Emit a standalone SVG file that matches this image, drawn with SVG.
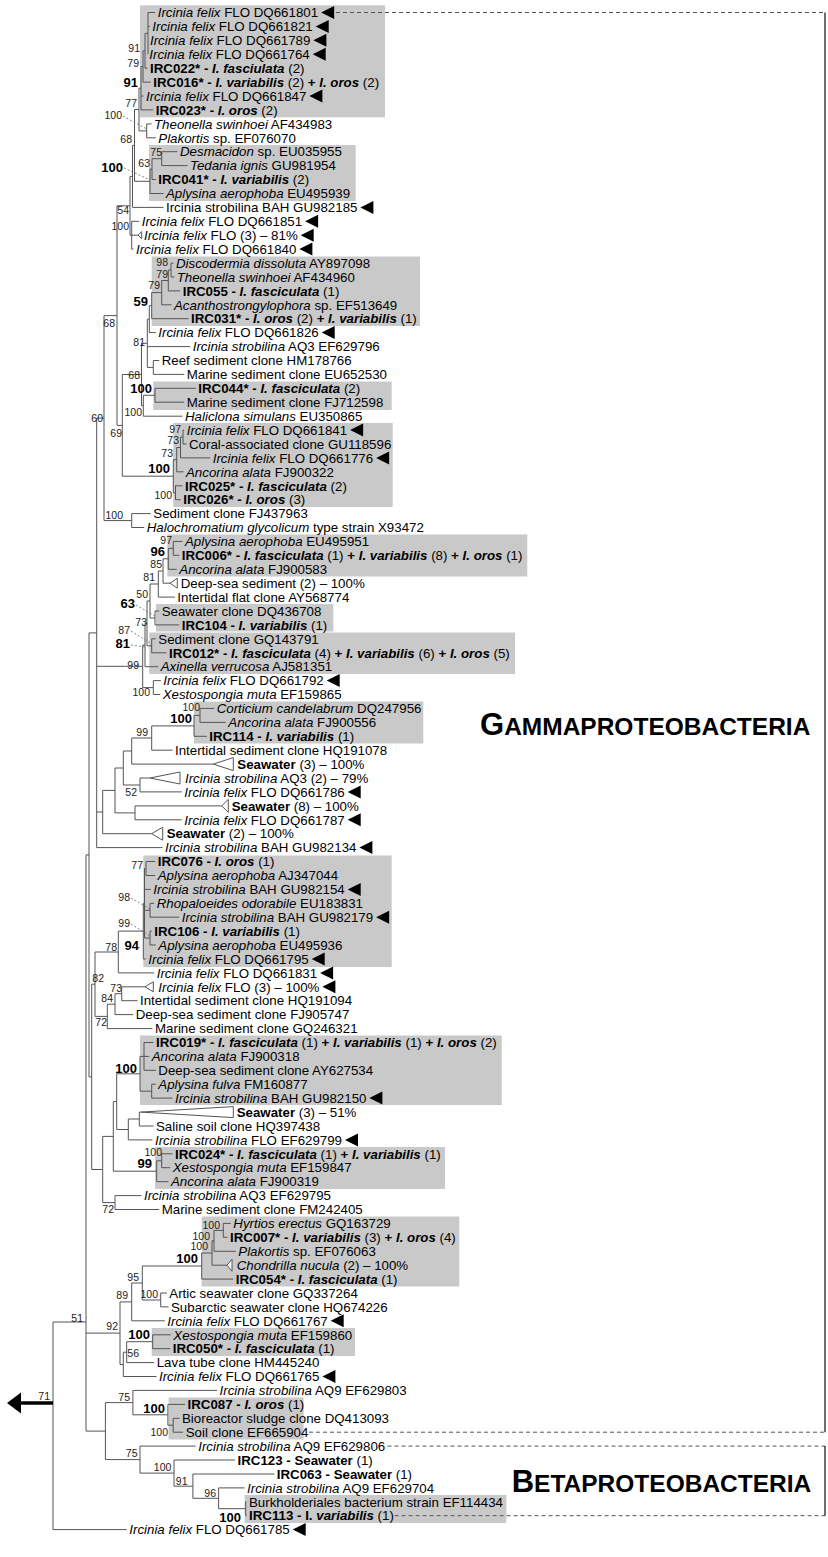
<svg xmlns="http://www.w3.org/2000/svg" xmlns:xlink="http://www.w3.org/1999/xlink" width="828" height="1557" viewBox="0 0 828 1557">
<style>
.t{font-family:"Liberation Sans",Arial,sans-serif;font-size:13.3px;fill:#000}
.i{font-style:italic}
.b{font-weight:bold}
.s{font-family:"Liberation Sans",Arial,sans-serif;font-size:10.5px;text-anchor:end;fill:#222}
.sb{font-family:"Liberation Sans",Arial,sans-serif;font-size:13px;font-weight:bold;text-anchor:end;fill:#000}
.ln{fill:none;stroke:#555;stroke-width:1}
.bx{fill:#c9c9c9}
.ct{fill:#fff;stroke:#555;stroke-width:1}
.ds{fill:none;stroke:#555;stroke-width:1;stroke-dasharray:4 3}
.pt{fill:none;stroke:#666;stroke-width:0.8;stroke-dasharray:2 2}
.big{font-family:"Liberation Sans",Arial,sans-serif;font-weight:bold;fill:#000}
</style>
<defs>
<path id="bt" d="M0 0L13 -6.5L13 6.5Z" fill="#000"/>
</defs>
<rect width="828" height="1557" fill="#fff"/>
<g id="boxes">
<rect class="bx" x="140" y="5.3" width="245" height="112"/>
<rect class="bx" x="149" y="145" width="206.7" height="56"/>
<rect class="bx" x="151.7" y="256.5" width="268.3" height="69.5"/>
<rect class="bx" x="153.3" y="381.5" width="238.4" height="28.5"/>
<rect class="bx" x="173.3" y="423" width="219.4" height="84"/>
<rect class="bx" x="167.3" y="534.5" width="360" height="42"/>
<rect class="bx" x="156" y="604" width="177.3" height="27.5"/>
<rect class="bx" x="149.3" y="632.5" width="365.7" height="41.5"/>
<rect class="bx" x="194" y="701.5" width="229.3" height="42"/>
<rect class="bx" x="143.3" y="855.5" width="248.4" height="111.5"/>
<rect class="bx" x="140" y="1035.5" width="361.7" height="69.5"/>
<rect class="bx" x="155" y="1147" width="290" height="42"/>
<rect class="bx" x="201.7" y="1216.5" width="257.6" height="70"/>
<rect class="bx" x="151.7" y="1328" width="203.3" height="28"/>
<rect class="bx" x="168.6" y="1397.5" width="135" height="42"/>
<rect class="bx" x="244.6" y="1495" width="261.8" height="28"/>
</g>
<g id="connectors" class="ln">
<path d="M148 12.5V54.3M148 12.5H155.2M148 26.4H149.8"/>
<path d="M145 33.4V68.2M145 33.4H148M145 68.2H147.5"/>
<path d="M143 50.8V82.1M143 50.8H145M143 82.1H150.8"/>
<path d="M141 66.5V109.9M141 66.5H143M141 96H143.5M141 109.9H153.2"/>
<path d="M146.7 123.9V137.8M146.7 123.9H151.5M146.7 137.8H155.8"/>
<path d="M139 88.2V130.9M139 88.2H141M139 130.9H146.7"/>
<path d="M161.7 151.7V165.6M161.7 151.7H177.5M161.7 165.6H187.5"/>
<path d="M152 158.7V179.5M152 158.7H161.7M152 179.5H155.8"/>
<path d="M150 169.1V193.5M150 169.1H152M150 193.5H163.5"/>
<path d="M134.5 109.5V181.3M134.5 109.5H139M134.5 181.3H150"/>
<path d="M132.5 145.4V207.4M132.5 145.4H134.5M132.5 207.4H163.5"/>
<path d="M131.7 221.3V249.1M131.7 221.3H139.2M131.7 235.2H138M131.7 249.1H133.5"/>
<path d="M130 176.4V235.2M130 176.4H132.5M130 235.2H131.7"/>
<path d="M117 205.8V425.4M117 205.8H130M117 425.4H122.3"/>
<path d="M171 263.1V277M171 263.1H173.5M171 277H174.2"/>
<path d="M168.3 270V290.9M168.3 270H171M168.3 290.9H180.2"/>
<path d="M161.7 280.5V304.8M161.7 280.5H168.3M161.7 304.8H171.5"/>
<path d="M151.7 292.6V318.7M151.7 292.6H161.7M151.7 318.7H188.5"/>
<path d="M149.3 305.7V332.6M149.3 305.7H151.7M149.3 332.6H155.8"/>
<path d="M153.3 360.5V374.4M153.3 360.5H159.2M153.3 374.4H184.2"/>
<path d="M147.3 319.1V367.4M147.3 319.1H149.3M147.3 346.6H190.2M147.3 367.4H153.3"/>
<path d="M155 388.3V402.2M155 388.3H195.8M155 402.2H184.2"/>
<path d="M143.3 395.3V416.2M143.3 395.3H155M143.3 416.2H182.5"/>
<path d="M141.5 343.3V405.7M141.5 343.3H147.3M141.5 405.7H143.3"/>
<path d="M183 430.1V444M183 430.1H184.2M183 444H186.5"/>
<path d="M180.5 437.1V457.9M180.5 437.1H183M180.5 457.9H210.2"/>
<path d="M176.7 447.5V471.8M176.7 447.5H180.5M176.7 471.8H183.5"/>
<path d="M175.5 485.8V499.7M175.5 485.8H182.5M175.5 499.7H180.8"/>
<path d="M173.3 459.7V492.8M173.3 459.7H176.7M173.3 492.8H175.5"/>
<path d="M122.3 374.5V476.2M122.3 374.5H141.5M122.3 476.2H173.3"/>
<path d="M131.7 513.6V527.5M131.7 513.6H150.8M131.7 527.5H144.2"/>
<path d="M104 315.6V520.6M104 315.6H117M104 520.6H131.7"/>
<path d="M173.3 541.4V555.3M173.3 541.4H182.5M173.3 555.3H179.2"/>
<path d="M168.3 548.4V569.3M168.3 548.4H173.3M168.3 569.3H176.8"/>
<path d="M163 558.8V583.2M163 558.8H168.3M163 583.2H170"/>
<path d="M158.3 571V597.1M158.3 571H163M158.3 597.1H174.8"/>
<path d="M155 611V624.9M155 611H159.2M155 624.9H179.2"/>
<path d="M150 584V618M150 584H158.3M150 618H155"/>
<path d="M151.7 638.8V652.8M151.7 638.8H155.8M151.7 652.8H166.5"/>
<path d="M147 601V645.8M147 601H150M147 645.8H151.7"/>
<path d="M145 623.4V666.7M145 623.4H147M145 666.7H158.2"/>
<path d="M153.3 680.6V694.5M153.3 680.6H160.8M153.3 694.5H160.2"/>
<path d="M142.7 645V687.6M142.7 645H145M142.7 687.6H153.3"/>
<path d="M200 708.4V722.4M200 708.4H214.2M200 722.4H225.8"/>
<path d="M194 715.4V736.3M194 715.4H200M194 736.3H206.8"/>
<path d="M151.7 725.9V750.2M151.7 725.9H194M151.7 750.2H172.5"/>
<path d="M131.7 738V764.1M131.7 738H151.7M131.7 764.1H213.3"/>
<path d="M140 778V791.9M140 778H150M140 791.9H181.8"/>
<path d="M123.3 751V785M123.3 751H131.7M123.3 785H140"/>
<path d="M135 805.9V819.8M135 805.9H221.7M135 819.8H181.8"/>
<path d="M115 768V812.9M115 768H123.3M115 812.9H135"/>
<path d="M102.7 790.4V833.7M102.7 790.4H115M102.7 833.7H151.7"/>
<path d="M96.7 418.1V847.6M96.7 418.1H104M96.7 666.3H142.7M96.7 812H102.7M96.7 847.6H162.5"/>
<path d="M146 861.5V875.5M146 861.5H155.2M146 875.5H155.2"/>
<path d="M150 903.3V917.2M150 903.3H154.2M150 917.2H179.2"/>
<path d="M150 931.1V945M150 931.1H151.8M150 945H155.8"/>
<path d="M144.5 868.5V938M144.5 868.5H146M144.5 889.4H150.8M144.5 910.3H150M144.5 938H150"/>
<path d="M143.3 903.3V959M143.3 903.3H144.5M143.3 959H145.8"/>
<path d="M118.3 931.1V972.9M118.3 931.1H143.3M118.3 972.9H154.2"/>
<path d="M121.7 986.8V1000.7M121.7 986.8H145M121.7 1000.7H137.5"/>
<path d="M115 993.7V1014.6M115 993.7H121.7M115 1014.6H133.2"/>
<path d="M107.3 1004.2V1028.6M107.3 1004.2H115M107.3 1028.6H152.5"/>
<path d="M95 952V1016.4M95 952H118.3M95 1016.4H107.3"/>
<path d="M144 1042.5V1070.3M144 1042.5H153.5M144 1056.4H149.2M144 1070.3H155.8"/>
<path d="M151.7 1084.2V1098.1M151.7 1084.2H155.8M151.7 1098.1H172.5"/>
<path d="M140 1056.4V1091.2M140 1056.4H144M140 1091.2H151.7"/>
<path d="M139.3 1112.1V1126M139.3 1112.1H141M139.3 1126H153.5"/>
<path d="M128.3 1119V1139.9M128.3 1119H139.3M128.3 1139.9H152.5"/>
<path d="M116.7 1073.8V1129.5M116.7 1073.8H140M116.7 1129.5H128.3"/>
<path d="M161.7 1153.8V1167.7M161.7 1153.8H172.5M161.7 1167.7H170.2"/>
<path d="M156.7 1160.8V1181.7M156.7 1160.8H161.7M156.7 1181.7H168.5"/>
<path d="M113.3 1101.6V1171.2M113.3 1101.6H116.7M113.3 1171.2H156.7"/>
<path d="M115 1195.6V1209.5M115 1195.6H141.5M115 1209.5H159.2"/>
<path d="M102.7 1136.4V1202.6M102.7 1136.4H113.3M102.7 1202.6H115"/>
<path d="M91.7 984.2V1169.5M91.7 984.2H95M91.7 1169.5H102.7"/>
<path d="M89 632.9V1076.9M89 632.9H96.7M89 1076.9H91.7"/>
<path d="M223.3 1223.4V1237.3M223.3 1223.4H230.8M223.3 1237.3H227.5"/>
<path d="M214 1230.4V1251.3M214 1230.4H223.3M214 1251.3H235.8"/>
<path d="M212 1240.8V1265.2M212 1240.8H214M212 1265.2H227"/>
<path d="M201.7 1253V1279.1M201.7 1253H212M201.7 1279.1H233.2"/>
<path d="M160.7 1293V1306.9M160.7 1293H166.8M160.7 1306.9H168.5"/>
<path d="M142.3 1266V1300M142.3 1266H201.7M142.3 1300H160.7"/>
<path d="M131.7 1283V1320.8M131.7 1283H142.3M131.7 1320.8H164.8"/>
<path d="M152.7 1334.8V1348.7M152.7 1334.8H170.8M152.7 1348.7H170.2"/>
<path d="M126.7 1341.7V1362.6M126.7 1341.7H152.7M126.7 1362.6H154.2"/>
<path d="M123.3 1352.2V1376.5M123.3 1352.2H126.7M123.3 1376.5H156.5"/>
<path d="M120 1301.9V1364.4M120 1301.9H131.7M120 1364.4H123.3"/>
<path d="M173.2 1418.3V1432.2M173.2 1418.3H179.5M173.2 1432.2H183.2"/>
<path d="M167.9 1404.4V1425.2M167.9 1404.4H185M167.9 1425.2H173.2"/>
<path d="M132.9 1390.4V1414.8M132.9 1390.4H217.1M132.9 1414.8H167.9"/>
<path d="M245.7 1501.8V1515.7M245.7 1501.8H246.5M245.7 1515.7H246.5"/>
<path d="M218.6 1487.9V1508.7M218.6 1487.9H244.6M218.6 1508.7H245.7"/>
<path d="M192.9 1474V1498.3M192.9 1474H274.3M192.9 1498.3H218.6"/>
<path d="M174 1460V1486.2M174 1460H235M174 1486.2H192.9"/>
<path d="M140 1446.1V1473.1M140 1446.1H195.7M140 1473.1H174"/>
<path d="M105.4 1402.6V1459.6M105.4 1402.6H132.9M105.4 1459.6H140"/>
<path d="M86 854.9V1431.1M86 854.9H89M86 1333.1H120M86 1431.1H105.4"/>
<path d="M53 1322V1529.6M53 1322H86M53 1529.6H126.8"/>
<path d="M20 1403H53" stroke="#000" stroke-width="3.5"/>
<polygon points="7,1403 21,1392.5 21,1413.5" fill="#000" stroke="none"/>
<polygon class="ct" points="138,235.2 141.7,231.7 141.7,238.7"/>
<polygon class="ct" points="170,583.2 177.3,578.2 177.3,588.2"/>
<polygon class="ct" points="213.3,764.1 233.3,757.6 233.3,770.6"/>
<polygon class="ct" points="150,778 180,772 180,784"/>
<polygon class="ct" points="221.7,805.9 228.3,799.4 228.3,812.4"/>
<polygon class="ct" points="151.7,833.7 162.7,827.2 162.7,840.2"/>
<polygon class="ct" points="145,986.8 153.3,981.8 153.3,991.8"/>
<polygon class="ct" points="141,1112.1 233.3,1106.6 233.3,1117.6"/>
<polygon class="ct" points="227,1265.2 232,1259.2 232,1271.2"/>
<path class="pt" d="M123 116L146.7 129M124 168L150 180M136 605L155 616M131 631L151.7 644M131 645L145 647M131 898L150 909M131 924L150 936"/>
<path class="ds" d="M336 12.5H825M309 1432.2H825M387.5 1446.1H825M394.6 1515.7H825"/>
<path d="M825 12.5V1432.2M825 1446.1V1515.7" stroke="#222" stroke-width="1.3"/>
</g>
<g id="support">
<text class="s" x="140" y="51.7">91</text>
<text class="s" x="139" y="66.7">79</text>
<text class="sb" x="138" y="86.5">91</text>
<text class="s" x="137" y="106.7">77</text>
<text class="s" x="122" y="118.7">100</text>
<text class="s" x="132" y="142.7">68</text>
<text class="s" x="162" y="155.7">75</text>
<text class="s" x="150" y="166.7">63</text>
<text class="sb" x="123" y="171.5">100</text>
<text class="s" x="129" y="213.7">54</text>
<text class="s" x="129" y="229.7">100</text>
<text class="s" x="168" y="265.7">98</text>
<text class="s" x="168" y="277.7">79</text>
<text class="s" x="160" y="288.7">79</text>
<text class="sb" x="148" y="305.5">59</text>
<text class="s" x="115" y="326.7">68</text>
<text class="s" x="145" y="345.7">81</text>
<text class="s" x="140" y="378.7">68</text>
<text class="sb" x="152" y="392.5">100</text>
<text class="s" x="142" y="415.7">100</text>
<text class="s" x="103" y="421.7">60</text>
<text class="s" x="181" y="432.7">97</text>
<text class="s" x="122" y="436.7">69</text>
<text class="s" x="179" y="443.7">73</text>
<text class="s" x="173" y="456.7">73</text>
<text class="sb" x="170" y="472.5">100</text>
<text class="s" x="172" y="498.7">100</text>
<text class="s" x="123" y="518.7">100</text>
<text class="s" x="172" y="544">97</text>
<text class="sb" x="165" y="556">96</text>
<text class="s" x="162" y="567.5">85</text>
<text class="s" x="155" y="580.7">81</text>
<text class="s" x="148" y="597.7">50</text>
<text class="sb" x="135" y="607.5">63</text>
<text class="s" x="147" y="625.7">73</text>
<text class="s" x="130" y="633.7">87</text>
<text class="sb" x="130" y="647.5">81</text>
<text class="s" x="139" y="668.7">99</text>
<text class="s" x="150" y="695.7">100</text>
<text class="s" x="200" y="710.7">100</text>
<text class="sb" x="192" y="722.5">100</text>
<text class="s" x="148" y="735.7">99</text>
<text class="s" x="137" y="795.7">52</text>
<text class="s" x="143" y="868.7">77</text>
<text class="s" x="130" y="900.7">98</text>
<text class="s" x="130" y="926.7">99</text>
<text class="sb" x="139" y="949.5">94</text>
<text class="s" x="117" y="950.7">78</text>
<text class="s" x="104" y="981.7">82</text>
<text class="s" x="122" y="991.7">73</text>
<text class="s" x="113" y="1001.7">84</text>
<text class="s" x="107" y="1025.7">72</text>
<text class="sb" x="137" y="1072.5">100</text>
<text class="s" x="162" y="1155.7">100</text>
<text class="sb" x="152" y="1167.5">99</text>
<text class="s" x="114" y="1212.7">72</text>
<text class="s" x="220" y="1228.7">100</text>
<text class="s" x="210" y="1239.7">100</text>
<text class="s" x="208" y="1249.7">100</text>
<text class="sb" x="198" y="1262.5">100</text>
<text class="s" x="139" y="1280.7">95</text>
<text class="s" x="158" y="1297.7">100</text>
<text class="s" x="128" y="1298.7">89</text>
<text class="s" x="83" y="1321.7">51</text>
<text class="s" x="118" y="1329.7">92</text>
<text class="sb" x="150" y="1338.5">100</text>
<text class="s" x="139" y="1356.7">56</text>
<text class="s" x="50" y="1399.7">71</text>
<text class="s" x="130" y="1400.7">75</text>
<text class="sb" x="165" y="1412.5">100</text>
<text class="s" x="168" y="1435.7">100</text>
<text class="s" x="137.5" y="1456.7">75</text>
<text class="s" x="171.4" y="1470.7">100</text>
<text class="s" x="187.5" y="1484.7">91</text>
<text class="s" x="216" y="1496.7">96</text>
<text class="sb" x="241" y="1521.5">100</text>
</g>
<g id="L1"><text class="t" x="157.7" y="17.2"><tspan class="i">Ircinia felix</tspan> FLO DQ661801</text><use href="#bt" x="321.1" y="12.5"/></g>
<g id="L2"><text class="t" x="152.3" y="31.1"><tspan class="i">Ircinia felix</tspan> FLO DQ661821</text><use href="#bt" x="315.7" y="26.4"/></g>
<g id="L3"><text class="t" x="150" y="45"><tspan class="i">Ircinia felix</tspan> FLO DQ661789</text><use href="#bt" x="313.4" y="40.3"/></g>
<g id="L4"><text class="t" x="149.3" y="59"><tspan class="i">Ircinia felix</tspan> FLO DQ661764</text><use href="#bt" x="312.7" y="54.3"/></g>
<g id="L5"><text class="t" x="150" y="72.9"><tspan class="b">IRC022* - <tspan class="i">I. fasciulata</tspan></tspan> (2)</text></g>
<g id="L6"><text class="t" x="153.3" y="86.8"><tspan class="b">IRC016* - <tspan class="i">I. variabilis</tspan></tspan> (2) <tspan class="b">+ <tspan class="i">I. oros</tspan></tspan> (2)</text></g>
<g id="L7"><text class="t" x="146" y="100.7"><tspan class="i">Ircinia felix</tspan> FLO DQ661847</text><use href="#bt" x="309.4" y="96"/></g>
<g id="L8"><text class="t" x="155.7" y="114.6"><tspan class="b">IRC023* - <tspan class="i">I. oros</tspan></tspan> (2)</text></g>
<g id="L9"><text class="t" x="154" y="128.6"><tspan class="i">Theonella swinhoei</tspan> AF434983</text></g>
<g id="L10"><text class="t" x="158.3" y="142.5"><tspan class="i">Plakortis</tspan> sp. EF076070</text></g>
<g id="L11"><text class="t" x="180" y="156.4"><tspan class="i">Desmacidon</tspan> sp. EU035955</text></g>
<g id="L12"><text class="t" x="190" y="170.3"><tspan class="i">Tedania ignis</tspan> GU981954</text></g>
<g id="L13"><text class="t" x="158.3" y="184.2"><tspan class="b">IRC041* - <tspan class="i">I. variabilis</tspan></tspan> (2)</text></g>
<g id="L14"><text class="t" x="166" y="198.2"><tspan class="i">Aplysina aerophoba</tspan> EU495939</text></g>
<g id="L15"><text class="t" x="166" y="212.1">Ircinia strobilina BAH GU982185</text><use href="#bt" x="360.4" y="207.4"/></g>
<g id="L16"><text class="t" x="141.7" y="226"><tspan class="i">Ircinia felix</tspan> FLO DQ661851</text><use href="#bt" x="305.1" y="221.3"/></g>
<g id="L17"><text class="t" x="144" y="239.9"><tspan class="i">Ircinia felix</tspan> FLO (3) – 81%</text><use href="#bt" x="300.7" y="235.2"/></g>
<g id="L18"><text class="t" x="136" y="253.8"><tspan class="i">Ircinia felix</tspan> FLO DQ661840</text><use href="#bt" x="299.4" y="249.1"/></g>
<g id="L19"><text class="t" x="176" y="267.8"><tspan class="i">Discodermia dissoluta</tspan> AY897098</text></g>
<g id="L20"><text class="t" x="176.7" y="281.7"><tspan class="i">Theonella swinhoei</tspan> AF434960</text></g>
<g id="L21"><text class="t" x="182.7" y="295.6"><tspan class="b">IRC055 - <tspan class="i">I. fasciculata</tspan></tspan> (1)</text></g>
<g id="L22"><text class="t" x="174" y="309.5"><tspan class="i">Acanthostrongylophora</tspan> sp. EF513649</text></g>
<g id="L23"><text class="t" x="191" y="323.4"><tspan class="b">IRC031* - <tspan class="i">I. oros</tspan></tspan> (2) <tspan class="b">+ <tspan class="i">I. variabilis</tspan></tspan> (1)</text></g>
<g id="L24"><text class="t" x="158.3" y="337.3"><tspan class="i">Ircinia felix</tspan> FLO DQ661826</text><use href="#bt" x="321.7" y="332.6"/></g>
<g id="L25"><text class="t" x="192.7" y="351.3"><tspan class="i">Ircinia strobilina</tspan> AQ3 EF629796</text></g>
<g id="L26"><text class="t" x="161.7" y="365.2">Reef sediment clone HM178766</text></g>
<g id="L27"><text class="t" x="186.7" y="379.1">Marine sediment clone EU652530</text></g>
<g id="L28"><text class="t" x="198.3" y="393"><tspan class="b">IRC044* - <tspan class="i">I. fasciculata</tspan></tspan> (2)</text></g>
<g id="L29"><text class="t" x="186.7" y="406.9">Marine sediment clone FJ712598</text></g>
<g id="L30"><text class="t" x="185" y="420.9"><tspan class="i">Haliclona simulans</tspan> EU350865</text></g>
<g id="L31"><text class="t" x="186.7" y="434.8"><tspan class="i">Ircinia felix</tspan> FLO DQ661841</text><use href="#bt" x="350.1" y="430.1"/></g>
<g id="L32"><text class="t" x="189" y="448.7">Coral-associated clone GU118596</text></g>
<g id="L33"><text class="t" x="212.7" y="462.6"><tspan class="i">Ircinia felix</tspan> FLO DQ661776</text><use href="#bt" x="376.1" y="457.9"/></g>
<g id="L34"><text class="t" x="186" y="476.5"><tspan class="i">Ancorina alata</tspan> FJ900322</text></g>
<g id="L35"><text class="t" x="185" y="490.5"><tspan class="b">IRC025* - <tspan class="i">I. fasciculata</tspan></tspan> (2)</text></g>
<g id="L36"><text class="t" x="183.3" y="504.4"><tspan class="b">IRC026* - <tspan class="i">I. oros</tspan></tspan> (3)</text></g>
<g id="L37"><text class="t" x="153.3" y="518.3">Sediment clone FJ437963</text></g>
<g id="L38"><text class="t" x="146.7" y="532.2"><tspan class="i">Halochromatium glycolicum</tspan> type strain X93472</text></g>
<g id="L39"><text class="t" x="185" y="546.1"><tspan class="i">Aplysina aerophoba</tspan> EU495951</text></g>
<g id="L40"><text class="t" x="181.7" y="560"><tspan class="b">IRC006* - <tspan class="i">I. fasciculata</tspan></tspan> (1) <tspan class="b">+ <tspan class="i">I. variabilis</tspan></tspan> (8) <tspan class="b">+ <tspan class="i">I. oros</tspan></tspan> (1)</text></g>
<g id="L41"><text class="t" x="179.3" y="574"><tspan class="i">Ancorina alata</tspan> FJ900583</text></g>
<g id="L42"><text class="t" x="180.7" y="587.9">Deep-sea sediment (2) – 100%</text></g>
<g id="L43"><text class="t" x="177.3" y="601.8">Intertidal flat clone AY568774</text></g>
<g id="L44"><text class="t" x="161.7" y="615.7">Seawater clone DQ436708</text></g>
<g id="L45"><text class="t" x="181.7" y="629.6"><tspan class="b">IRC104 - <tspan class="i">I. variabilis</tspan></tspan> (1)</text></g>
<g id="L46"><text class="t" x="158.3" y="643.5">Sediment clone GQ143791</text></g>
<g id="L47"><text class="t" x="169" y="657.5"><tspan class="b">IRC012* - <tspan class="i">I. fasciculata</tspan></tspan> (4) <tspan class="b">+ <tspan class="i">I. variabilis</tspan></tspan> (6) <tspan class="b">+ <tspan class="i">I. oros</tspan></tspan> (5)</text></g>
<g id="L48"><text class="t" x="160.7" y="671.4"><tspan class="i">Axinella verrucosa</tspan> AJ581351</text></g>
<g id="L49"><text class="t" x="163.3" y="685.3"><tspan class="i">Ircinia felix</tspan> FLO DQ661792</text><use href="#bt" x="326.7" y="680.6"/></g>
<g id="L50"><text class="t" x="162.7" y="699.2"><tspan class="i">Xestospongia muta</tspan> EF159865</text></g>
<g id="L51"><text class="t" x="216.7" y="713.1"><tspan class="i">Corticium candelabrum</tspan> DQ247956</text></g>
<g id="L52"><text class="t" x="228.3" y="727.1"><tspan class="i">Ancorina alata</tspan> FJ900556</text></g>
<g id="L53"><text class="t" x="209.3" y="741"><tspan class="b">IRC114 - <tspan class="i">I. variabilis</tspan></tspan> (1)</text></g>
<g id="L54"><text class="t" x="175" y="754.9">Intertidal sediment clone HQ191078</text></g>
<g id="L55"><text class="t" x="237.3" y="768.8"><tspan class="b">Seawater</tspan> (3) – 100%</text></g>
<g id="L56"><text class="t" x="185" y="782.7"><tspan class="i">Ircinia strobilina</tspan> AQ3 (2) – 79%</text></g>
<g id="L57"><text class="t" x="184.3" y="796.6"><tspan class="i">Ircinia felix</tspan> FLO DQ661786</text><use href="#bt" x="347.7" y="791.9"/></g>
<g id="L58"><text class="t" x="231.7" y="810.6"><tspan class="b">Seawater</tspan> (8) – 100%</text></g>
<g id="L59"><text class="t" x="184.3" y="824.5"><tspan class="i">Ircinia felix</tspan> FLO DQ661787</text><use href="#bt" x="347.7" y="819.8"/></g>
<g id="L60"><text class="t" x="166.7" y="838.4"><tspan class="b">Seawater</tspan> (2) – 100%</text></g>
<g id="L61"><text class="t" x="165" y="852.3"><tspan class="i">Ircinia strobilina</tspan> BAH GU982134</text><use href="#bt" x="359.4" y="847.6"/></g>
<g id="L62"><text class="t" x="157.7" y="866.2"><tspan class="b">IRC076 - <tspan class="i">I. oros</tspan></tspan> (1)</text></g>
<g id="L63"><text class="t" x="157.7" y="880.2"><tspan class="i">Aplysina aerophoba</tspan> AJ347044</text></g>
<g id="L64"><text class="t" x="153.3" y="894.1"><tspan class="i">Ircinia strobilina</tspan> BAH GU982154</text><use href="#bt" x="347.7" y="889.4"/></g>
<g id="L65"><text class="t" x="156.7" y="908"><tspan class="i">Rhopaloeides odorabile</tspan> EU183831</text></g>
<g id="L66"><text class="t" x="181.7" y="921.9"><tspan class="i">Ircinia strobilina</tspan> BAH GU982179</text><use href="#bt" x="376.1" y="917.2"/></g>
<g id="L67"><text class="t" x="154.3" y="935.8"><tspan class="b">IRC106 - <tspan class="i">I. variabilis</tspan></tspan> (1)</text></g>
<g id="L68"><text class="t" x="158.3" y="949.7"><tspan class="i">Aplysina aerophoba</tspan> EU495936</text></g>
<g id="L69"><text class="t" x="148.3" y="963.7"><tspan class="i">Ircinia felix</tspan> FLO DQ661795</text><use href="#bt" x="311.7" y="959"/></g>
<g id="L70"><text class="t" x="156.7" y="977.6"><tspan class="i">Ircinia felix</tspan> FLO DQ661831</text><use href="#bt" x="320.1" y="972.9"/></g>
<g id="L71"><text class="t" x="158.3" y="991.5"><tspan class="i">Ircinia felix</tspan> FLO (3) – 100%</text><use href="#bt" x="322.4" y="986.8"/></g>
<g id="L72"><text class="t" x="140" y="1005.4">Intertidal sediment clone HQ191094</text></g>
<g id="L73"><text class="t" x="135.7" y="1019.3">Deep-sea sediment clone FJ905747</text></g>
<g id="L74"><text class="t" x="155" y="1033.3">Marine sediment clone GQ246321</text></g>
<g id="L75"><text class="t" x="156" y="1047.2"><tspan class="b">IRC019* - <tspan class="i">I. fasciculata</tspan></tspan> (1) <tspan class="b">+ <tspan class="i">I. variabilis</tspan></tspan> (1) <tspan class="b">+ <tspan class="i">I. oros</tspan></tspan> (2)</text></g>
<g id="L76"><text class="t" x="151.7" y="1061.1"><tspan class="i">Ancorina alata</tspan> FJ900318</text></g>
<g id="L77"><text class="t" x="158.3" y="1075">Deep-sea sediment clone AY627534</text></g>
<g id="L78"><text class="t" x="158.3" y="1088.9"><tspan class="i">Aplysina fulva</tspan> FM160877</text></g>
<g id="L79"><text class="t" x="175" y="1102.8"><tspan class="i">Ircinia strobilina</tspan> BAH GU982150</text><use href="#bt" x="369.4" y="1098.1"/></g>
<g id="L80"><text class="t" x="236.7" y="1116.8"><tspan class="b">Seawater</tspan> (3) – 51%</text></g>
<g id="L81"><text class="t" x="156" y="1130.7">Saline soil clone HQ397438</text></g>
<g id="L82"><text class="t" x="155" y="1144.6"><tspan class="i">Ircinia strobilina</tspan> FLO EF629799</text><use href="#bt" x="345" y="1139.9"/></g>
<g id="L83"><text class="t" x="175" y="1158.5"><tspan class="b">IRC024* - <tspan class="i">I. fasciculata</tspan></tspan> (1) <tspan class="b">+ <tspan class="i">I. variabilis</tspan></tspan> (1)</text></g>
<g id="L84"><text class="t" x="172.7" y="1172.4"><tspan class="i">Xestospongia muta</tspan> EF159847</text></g>
<g id="L85"><text class="t" x="171" y="1186.4"><tspan class="i">Ancorina alata</tspan> FJ900319</text></g>
<g id="L86"><text class="t" x="144" y="1200.3"><tspan class="i">Ircinia strobilina</tspan> AQ3 EF629795</text></g>
<g id="L87"><text class="t" x="161.7" y="1214.2">Marine sediment clone FM242405</text></g>
<g id="L88"><text class="t" x="233.3" y="1228.1"><tspan class="i">Hyrtios erectus</tspan> GQ163729</text></g>
<g id="L89"><text class="t" x="230" y="1242"><tspan class="b">IRC007* - <tspan class="i">I. variabilis</tspan></tspan> (3) <tspan class="b">+ <tspan class="i">I. oros</tspan></tspan> (4)</text></g>
<g id="L90"><text class="t" x="238.3" y="1256"><tspan class="i">Plakortis</tspan> sp. EF076063</text></g>
<g id="L91"><text class="t" x="236.7" y="1269.9"><tspan class="i">Chondrilla nucula</tspan> (2) – 100%</text></g>
<g id="L92"><text class="t" x="235.7" y="1283.8"><tspan class="b">IRC054* - <tspan class="i">I. fasciculata</tspan></tspan> (1)</text></g>
<g id="L93"><text class="t" x="169.3" y="1297.7">Artic seawater clone GQ337264</text></g>
<g id="L94"><text class="t" x="171" y="1311.6">Subarctic seawater clone HQ674226</text></g>
<g id="L95"><text class="t" x="167.3" y="1325.5"><tspan class="i">Ircinia felix</tspan> FLO DQ661767</text><use href="#bt" x="330.7" y="1320.8"/></g>
<g id="L96"><text class="t" x="173.3" y="1339.5"><tspan class="i">Xestospongia muta</tspan> EF159860</text></g>
<g id="L97"><text class="t" x="172.7" y="1353.4"><tspan class="b">IRC050* - <tspan class="i">I. fasciculata</tspan></tspan> (1)</text></g>
<g id="L98"><text class="t" x="156.7" y="1367.3">Lava tube clone HM445240</text></g>
<g id="L99"><text class="t" x="159" y="1381.2"><tspan class="i">Ircinia felix</tspan> FLO DQ661765</text><use href="#bt" x="322.4" y="1376.5"/></g>
<g id="L100"><text class="t" x="219.6" y="1395.1"><tspan class="i">Ircinia strobilina</tspan> AQ9 EF629803</text></g>
<g id="L101"><text class="t" x="187.5" y="1409.1"><tspan class="b">IRC087 - <tspan class="i">I. oros</tspan></tspan> (1)</text></g>
<g id="L102"><text class="t" x="182" y="1423">Bioreactor sludge clone DQ413093</text></g>
<g id="L103"><text class="t" x="185.7" y="1436.9">Soil clone EF665904</text></g>
<g id="L104"><text class="t" x="198.2" y="1450.8"><tspan class="i">Ircinia strobilina</tspan> AQ9 EF629806</text></g>
<g id="L105"><text class="t" x="237.5" y="1464.7"><tspan class="b">IRC123 - Seawater</tspan> (1)</text></g>
<g id="L106"><text class="t" x="276.8" y="1478.7"><tspan class="b">IRC063 - Seawater</tspan> (1)</text></g>
<g id="L107"><text class="t" x="247.1" y="1492.6"><tspan class="i">Ircinia strobilina</tspan> AQ9 EF629704</text></g>
<g id="L108"><text class="t" x="249" y="1506.5">Burkholderiales bacterium strain EF114434</text></g>
<g id="L109"><text class="t" x="249" y="1520.4"><tspan class="b">IRC113 - I. <tspan class="i">variabilis</tspan></tspan> (1)</text></g>
<g id="L110"><text class="t" x="129.3" y="1534.3"><tspan class="i">Ircinia felix</tspan> FLO DQ661785</text><use href="#bt" x="292.7" y="1529.6"/></g>
<g id="clade-gamma"><text class="big" x="480" y="735"><tspan font-size="31">G</tspan><tspan font-size="24.5">AMMAPROTEOBACTERIA</tspan></text></g>
<g id="clade-beta"><text class="big" x="511.7" y="1491.7"><tspan font-size="31">B</tspan><tspan font-size="24.5">ETAPROTEOBACTERIA</tspan></text></g>
</svg>
